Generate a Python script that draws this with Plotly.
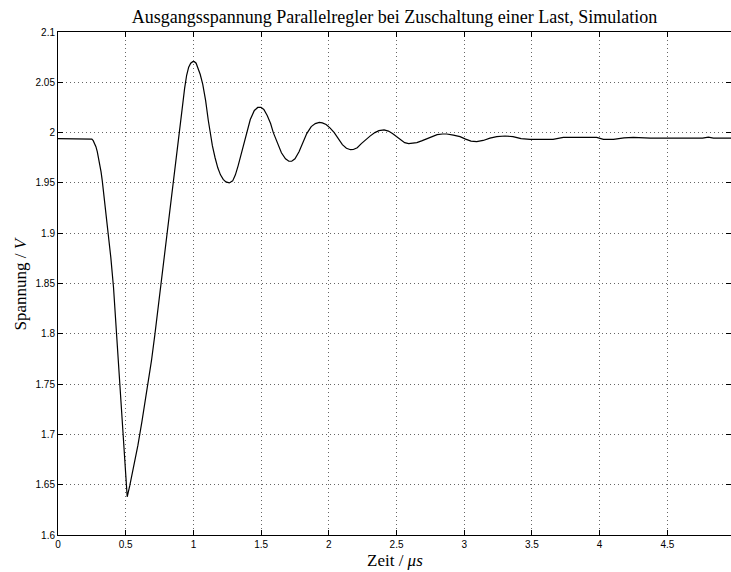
import plotly.graph_objects as go

# Output voltage of the shunt regulator after a load is switched in (simulation)
zeit_us = [
    0.0, 0.234, 0.250, 0.260, 0.271, 0.280, 0.290, 0.300, 0.308, 0.318,
    0.327, 0.336, 0.345, 0.357, 0.369, 0.380, 0.390, 0.410, 0.430, 0.450,
    0.470, 0.490, 0.500, 0.507, 0.511, 0.530, 0.560, 0.590, 0.620, 0.645,
    0.667, 0.690, 0.716, 0.740, 0.761, 0.780, 0.800, 0.820, 0.840, 0.860,
    0.880, 0.900, 0.920, 0.935, 0.950, 0.965, 0.980, 0.995, 1.007, 1.020,
    1.035, 1.050, 1.069, 1.090, 1.110, 1.123, 1.140, 1.160, 1.180, 1.200,
    1.220, 1.240, 1.265, 1.290, 1.310, 1.330, 1.350, 1.370, 1.393, 1.420,
    1.450, 1.475, 1.499, 1.520, 1.545, 1.570, 1.590, 1.620, 1.650, 1.680,
    1.705, 1.726, 1.750, 1.780, 1.810, 1.837, 1.870, 1.900, 1.930, 1.952,
    1.980, 2.010, 2.040, 2.070, 2.100, 2.130, 2.160, 2.181, 2.210, 2.240,
    2.270, 2.304, 2.340, 2.370, 2.408, 2.440, 2.470, 2.501, 2.530, 2.560,
    2.590, 2.612, 2.650, 2.690, 2.723, 2.760, 2.800, 2.840, 2.871, 2.920,
    2.969, 3.010, 3.050, 3.092, 3.140, 3.190, 3.240, 3.301, 3.360, 3.420,
    3.486, 3.656, 3.700, 3.732, 3.978, 4.028, 4.102, 4.180, 4.249, 4.373,
    4.760, 4.803, 4.840, 4.970,
]
spannung_v = [
    1.9940, 1.9940, 1.9935, 1.9920, 1.9890, 1.9860, 1.9810, 1.9750, 1.9695, 1.9610,
    1.9520, 1.9420, 1.9300, 1.9150, 1.9000, 1.8880, 1.8760, 1.8460, 1.8060, 1.7680,
    1.7280, 1.6830, 1.6600, 1.6450, 1.6380, 1.6490, 1.6680, 1.6890, 1.7130, 1.7330,
    1.7510, 1.7730, 1.8000, 1.8260, 1.8490, 1.8700, 1.8920, 1.9140, 1.9370, 1.9600,
    1.9820, 2.0040, 2.0270, 2.0440, 2.0570, 2.0650, 2.0690, 2.0705, 2.0705, 2.0690,
    2.0640, 2.0580, 2.0480, 2.0320, 2.0120, 2.0000, 1.9870, 1.9750, 1.9650, 1.9580,
    1.9535, 1.9510, 1.9500, 1.9520, 1.9580, 1.9670, 1.9770, 1.9880, 2.0000, 2.0130,
    2.0220, 2.0250, 2.0251, 2.0230, 2.0170, 2.0090, 2.0000, 1.9890, 1.9800, 1.9740,
    1.9715, 1.9715, 1.9740, 1.9810, 1.9900, 1.9990, 2.0060, 2.0090, 2.0102, 2.0097,
    2.0080, 2.0045, 2.0000, 1.9940, 1.9880, 1.9845, 1.9830, 1.9832, 1.9850, 1.9890,
    1.9930, 1.9965, 2.0000, 2.0020, 2.0026, 2.0015, 1.9990, 1.9960, 1.9925, 1.9900,
    1.9890, 1.9892, 1.9900, 1.9920, 1.9938, 1.9960, 1.9980, 1.9986, 1.9986, 1.9975,
    1.9960, 1.9935, 1.9915, 1.9910, 1.9922, 1.9945, 1.9960, 1.9966, 1.9960, 1.9940,
    1.9933, 1.9933, 1.9945, 1.9953, 1.9953, 1.9933, 1.9933, 1.9948, 1.9953, 1.9945,
    1.9945, 1.9955, 1.9945, 1.9945,
]

x_ticks = [0, 0.5, 1, 1.5, 2, 2.5, 3, 3.5, 4, 4.5]
x_ticktext = ["0", "0.5", "1", "1.5", "2", "2.5", "3", "3.5", "4", "4.5"]
y_ticks = [1.6, 1.65, 1.7, 1.75, 1.8, 1.85, 1.9, 1.95, 2.0, 2.05, 2.1]
y_ticktext = ["1.6", "1.65", "1.7", "1.75", "1.8", "1.85", "1.9", "1.95", "2", "2.05", "2.1"]

titel = "Ausgangsspannung Parallelregler bei Zuschaltung einer Last, Simulation"
x_label = "Zeit / <i>μs</i>"
y_label = "Spannung / <i>V</i>"

W, H = 731, 572
L, R, T, B = 58, 0, 32, 37
X_RANGE = [0, 4.97]
Y_RANGE = [1.6, 2.1]

serif = "Liberation Serif, Times New Roman, serif"
sans = "Liberation Sans, Arial, Helvetica, sans-serif"
grid_dash = "1px,3px"
grid_col = "rgba(0,0,0,0.6)"

fig = go.Figure()
fig.add_trace(go.Scatter(
    x=zeit_us, y=spannung_v, mode="lines",
    line=dict(color="black", width=1.2),
    showlegend=False, hoverinfo="skip",
))
# second y axis only carries the inward ticks on the right side
fig.add_trace(go.Scatter(
    x=[zeit_us[0]], y=[spannung_v[0]], yaxis="y2", mode="lines",
    line=dict(color="rgba(0,0,0,0)"), showlegend=False, hoverinfo="skip",
))

axis_common = dict(
    ticks="inside", ticklen=5, tickwidth=1, tickcolor="black",
    showline=True, linecolor="black", linewidth=1,
    showgrid=True, gridcolor=grid_col, griddash=grid_dash, gridwidth=1,
    zeroline=False,
    tickfont=dict(family=sans, size=10, color="black"),
)

fig.update_layout(
    width=W, height=H,
    margin=dict(l=L, r=R, t=T, b=B),
    paper_bgcolor="white", plot_bgcolor="white",
    title=dict(
        text=titel, x=0.5, xref="paper", xanchor="center",
        y=1 - 17 / H, yref="container", yanchor="middle",
        font=dict(family=serif, size=18, color="black"),
    ),
    xaxis=dict(
        range=X_RANGE, tickvals=x_ticks, ticktext=x_ticktext,
        mirror="ticks", **axis_common,
    ),
    yaxis=dict(
        range=Y_RANGE, tickvals=y_ticks, ticktext=y_ticktext,
        **axis_common,
    ),
    yaxis2=dict(
        range=Y_RANGE, overlaying="y", side="right", tickvals=y_ticks,
        ticks="inside", ticklen=5, tickwidth=1, tickcolor="black",
        showticklabels=False, showgrid=False, showline=False, zeroline=False,
    ),
    annotations=[
        dict(text=x_label, xref="paper", yref="paper", x=0.5, y=-25 / 503,
             xanchor="center", yanchor="middle", showarrow=False,
             font=dict(family=serif, size=17, color="black")),
        dict(text=y_label, xref="paper", yref="paper", x=(20 - L) / 673, y=0.5,
             xanchor="center", yanchor="middle", textangle=-90, showarrow=False,
             font=dict(family=serif, size=17, color="black")),
    ],
)

fig.write_html("out.html")
